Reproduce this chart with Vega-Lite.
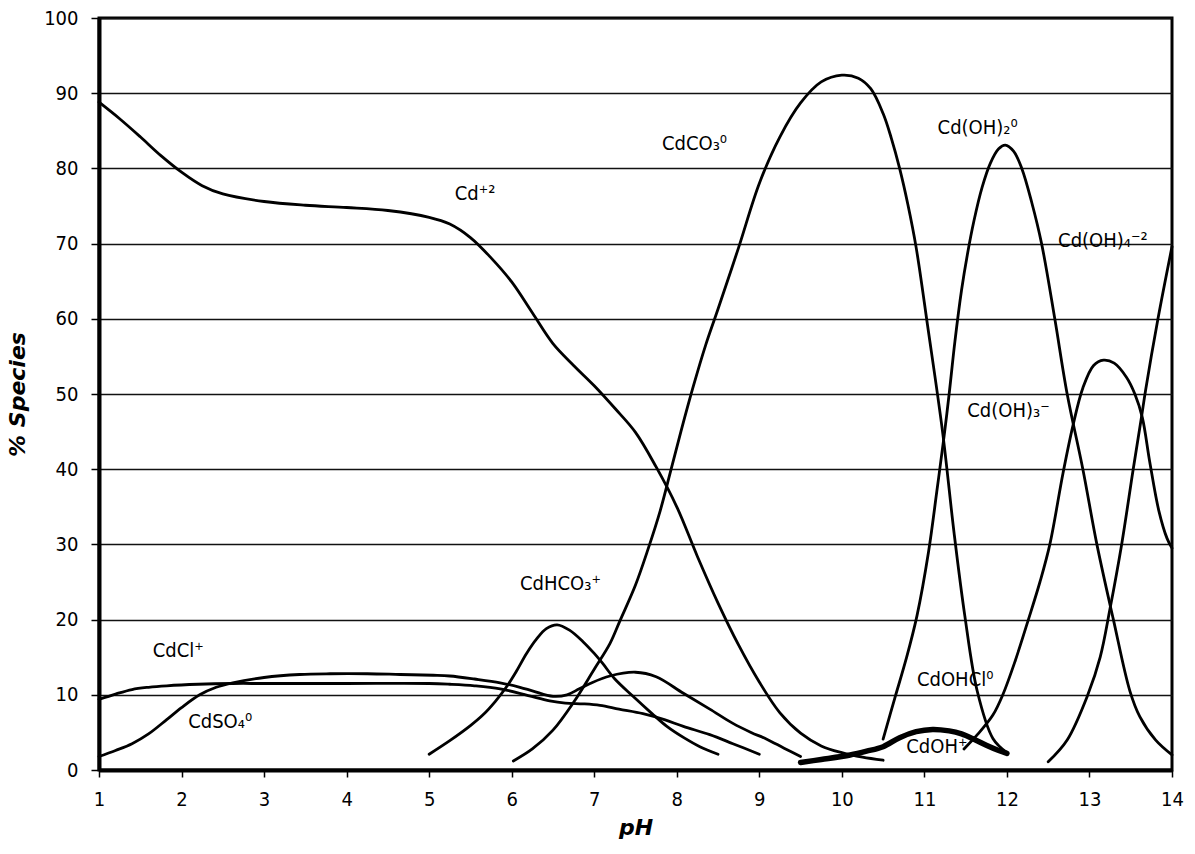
{
  "$schema": "https://vega.github.io/schema/vega-lite/v6.json",
  "width": 1073,
  "height": 752,
  "autosize": {"type": "none"},
  "padding": {"left": 99, "top": 18, "right": 23, "bottom": 84},
  "background": "white",
  "config": {
    "view": {"stroke": "black", "strokeWidth": 3},
    "axis": {
      "domainColor": "black",
      "domainWidth": 4,
      "tickColor": "black",
      "tickWidth": 1.5,
      "labelFont": "DejaVu Sans Condensed, DejaVu Sans",
      "labelFontSize": 20,
      "labelColor": "black",
      "titleFont": "DejaVu Sans",
      "titleFontSize": 22,
      "titleFontStyle": "italic",
      "titleFontWeight": "bold",
      "titleColor": "black"
    }
  },
  "datasets": {
    "curves": [
      {"s": "Cd+2", "x": 1.0, "y": 88.8}, {"s": "Cd+2", "x": 1.25, "y": 86.6}, {"s": "Cd+2", "x": 1.5, "y": 84.2}, {"s": "Cd+2", "x": 1.75, "y": 81.7}, {"s": "Cd+2", "x": 2.0, "y": 79.5}, {"s": "Cd+2", "x": 2.25, "y": 77.7}, {"s": "Cd+2", "x": 2.5, "y": 76.6}, {"s": "Cd+2", "x": 3.0, "y": 75.6}, {"s": "Cd+2", "x": 3.5, "y": 75.1}, {"s": "Cd+2", "x": 4.0, "y": 74.8}, {"s": "Cd+2", "x": 4.5, "y": 74.4}, {"s": "Cd+2", "x": 5.0, "y": 73.5}, {"s": "Cd+2", "x": 5.25, "y": 72.6}, {"s": "Cd+2", "x": 5.5, "y": 70.8}, {"s": "Cd+2", "x": 5.75, "y": 68.1}, {"s": "Cd+2", "x": 6.0, "y": 64.9}, {"s": "Cd+2", "x": 6.25, "y": 60.8}, {"s": "Cd+2", "x": 6.5, "y": 56.7}, {"s": "Cd+2", "x": 6.75, "y": 53.8}, {"s": "Cd+2", "x": 7.0, "y": 51.1}, {"s": "Cd+2", "x": 7.25, "y": 48.1}, {"s": "Cd+2", "x": 7.5, "y": 44.9}, {"s": "Cd+2", "x": 7.75, "y": 40.3}, {"s": "Cd+2", "x": 8.0, "y": 35.0}, {"s": "Cd+2", "x": 8.25, "y": 28.4}, {"s": "Cd+2", "x": 8.5, "y": 22.2}, {"s": "Cd+2", "x": 8.75, "y": 16.6}, {"s": "Cd+2", "x": 9.0, "y": 11.7}, {"s": "Cd+2", "x": 9.25, "y": 7.6}, {"s": "Cd+2", "x": 9.5, "y": 4.9}, {"s": "Cd+2", "x": 9.75, "y": 3.2}, {"s": "Cd+2", "x": 10.0, "y": 2.3}, {"s": "Cd+2", "x": 10.25, "y": 1.7}, {"s": "Cd+2", "x": 10.5, "y": 1.3},

      {"s": "CdCO3", "x": 6.02, "y": 1.2}, {"s": "CdCO3", "x": 6.25, "y": 2.8}, {"s": "CdCO3", "x": 6.5, "y": 5.3}, {"s": "CdCO3", "x": 6.75, "y": 9.0}, {"s": "CdCO3", "x": 7.0, "y": 13.4}, {"s": "CdCO3", "x": 7.19, "y": 16.8}, {"s": "CdCO3", "x": 7.31, "y": 19.8}, {"s": "CdCO3", "x": 7.5, "y": 24.6}, {"s": "CdCO3", "x": 7.65, "y": 29.3}, {"s": "CdCO3", "x": 7.8, "y": 34.5}, {"s": "CdCO3", "x": 7.92, "y": 39.5}, {"s": "CdCO3", "x": 8.05, "y": 45.0}, {"s": "CdCO3", "x": 8.2, "y": 51.0}, {"s": "CdCO3", "x": 8.35, "y": 56.5}, {"s": "CdCO3", "x": 8.5, "y": 61.3}, {"s": "CdCO3", "x": 8.75, "y": 69.5}, {"s": "CdCO3", "x": 9.0, "y": 78.0}, {"s": "CdCO3", "x": 9.25, "y": 84.2}, {"s": "CdCO3", "x": 9.5, "y": 88.7}, {"s": "CdCO3", "x": 9.75, "y": 91.5}, {"s": "CdCO3", "x": 10.0, "y": 92.4}, {"s": "CdCO3", "x": 10.2, "y": 92.0}, {"s": "CdCO3", "x": 10.35, "y": 90.6}, {"s": "CdCO3", "x": 10.5, "y": 87.3}, {"s": "CdCO3", "x": 10.6, "y": 84.0}, {"s": "CdCO3", "x": 10.7, "y": 80.0}, {"s": "CdCO3", "x": 10.8, "y": 75.2}, {"s": "CdCO3", "x": 10.9, "y": 69.5}, {"s": "CdCO3", "x": 11.04, "y": 59.0}, {"s": "CdCO3", "x": 11.22, "y": 45.0}, {"s": "CdCO3", "x": 11.36, "y": 31.5}, {"s": "CdCO3", "x": 11.49, "y": 20.5}, {"s": "CdCO3", "x": 11.64, "y": 10.5}, {"s": "CdCO3", "x": 11.83, "y": 4.2}, {"s": "CdCO3", "x": 12.0, "y": 2.3},

      {"s": "Cd(OH)2", "x": 10.5, "y": 4.1}, {"s": "Cd(OH)2", "x": 10.64, "y": 9.5}, {"s": "Cd(OH)2", "x": 10.78, "y": 14.8}, {"s": "Cd(OH)2", "x": 10.91, "y": 20.5}, {"s": "Cd(OH)2", "x": 11.05, "y": 29.0}, {"s": "Cd(OH)2", "x": 11.15, "y": 37.0}, {"s": "Cd(OH)2", "x": 11.24, "y": 44.5}, {"s": "Cd(OH)2", "x": 11.3, "y": 50.0}, {"s": "Cd(OH)2", "x": 11.37, "y": 57.0}, {"s": "Cd(OH)2", "x": 11.45, "y": 63.8}, {"s": "Cd(OH)2", "x": 11.52, "y": 68.5}, {"s": "Cd(OH)2", "x": 11.6, "y": 73.0}, {"s": "Cd(OH)2", "x": 11.7, "y": 77.5}, {"s": "Cd(OH)2", "x": 11.8, "y": 80.7}, {"s": "Cd(OH)2", "x": 11.9, "y": 82.6}, {"s": "Cd(OH)2", "x": 11.98, "y": 83.1}, {"s": "Cd(OH)2", "x": 12.08, "y": 82.3}, {"s": "Cd(OH)2", "x": 12.18, "y": 80.0}, {"s": "Cd(OH)2", "x": 12.3, "y": 75.5}, {"s": "Cd(OH)2", "x": 12.42, "y": 70.0}, {"s": "Cd(OH)2", "x": 12.58, "y": 60.0}, {"s": "Cd(OH)2", "x": 12.73, "y": 50.0}, {"s": "Cd(OH)2", "x": 12.92, "y": 40.0}, {"s": "Cd(OH)2", "x": 13.09, "y": 30.0}, {"s": "Cd(OH)2", "x": 13.29, "y": 20.0}, {"s": "Cd(OH)2", "x": 13.49, "y": 10.5}, {"s": "Cd(OH)2", "x": 13.61, "y": 7.1}, {"s": "Cd(OH)2", "x": 13.8, "y": 4.0}, {"s": "Cd(OH)2", "x": 14.0, "y": 2.0},

      {"s": "Cd(OH)3", "x": 11.48, "y": 2.8}, {"s": "Cd(OH)3", "x": 11.65, "y": 4.8}, {"s": "Cd(OH)3", "x": 11.83, "y": 7.3}, {"s": "Cd(OH)3", "x": 11.95, "y": 10.0}, {"s": "Cd(OH)3", "x": 12.1, "y": 14.5}, {"s": "Cd(OH)3", "x": 12.26, "y": 20.0}, {"s": "Cd(OH)3", "x": 12.4, "y": 25.0}, {"s": "Cd(OH)3", "x": 12.52, "y": 30.0}, {"s": "Cd(OH)3", "x": 12.68, "y": 39.5}, {"s": "Cd(OH)3", "x": 12.8, "y": 45.8}, {"s": "Cd(OH)3", "x": 12.92, "y": 50.8}, {"s": "Cd(OH)3", "x": 13.05, "y": 53.8}, {"s": "Cd(OH)3", "x": 13.17, "y": 54.5}, {"s": "Cd(OH)3", "x": 13.3, "y": 54.1}, {"s": "Cd(OH)3", "x": 13.45, "y": 52.2}, {"s": "Cd(OH)3", "x": 13.55, "y": 50.0}, {"s": "Cd(OH)3", "x": 13.64, "y": 46.9}, {"s": "Cd(OH)3", "x": 13.73, "y": 41.0}, {"s": "Cd(OH)3", "x": 13.84, "y": 34.5}, {"s": "Cd(OH)3", "x": 13.94, "y": 30.8}, {"s": "Cd(OH)3", "x": 14.0, "y": 29.5},

      {"s": "Cd(OH)4", "x": 12.5, "y": 1.1}, {"s": "Cd(OH)4", "x": 12.73, "y": 4.0}, {"s": "Cd(OH)4", "x": 12.98, "y": 10.0}, {"s": "Cd(OH)4", "x": 13.13, "y": 15.0}, {"s": "Cd(OH)4", "x": 13.25, "y": 21.5}, {"s": "Cd(OH)4", "x": 13.39, "y": 30.0}, {"s": "Cd(OH)4", "x": 13.53, "y": 40.0}, {"s": "Cd(OH)4", "x": 13.63, "y": 46.9}, {"s": "Cd(OH)4", "x": 13.68, "y": 50.5}, {"s": "Cd(OH)4", "x": 13.83, "y": 60.0}, {"s": "Cd(OH)4", "x": 14.0, "y": 69.6},

      {"s": "CdOH+", "x": 9.5, "y": 1.0}, {"s": "CdOH+", "x": 9.75, "y": 1.4}, {"s": "CdOH+", "x": 10.1, "y": 2.0}, {"s": "CdOH+", "x": 10.3, "y": 2.5}, {"s": "CdOH+", "x": 10.5, "y": 3.1}, {"s": "CdOH+", "x": 10.7, "y": 4.3}, {"s": "CdOH+", "x": 10.9, "y": 5.1}, {"s": "CdOH+", "x": 11.1, "y": 5.4}, {"s": "CdOH+", "x": 11.3, "y": 5.2}, {"s": "CdOH+", "x": 11.45, "y": 4.8}, {"s": "CdOH+", "x": 11.6, "y": 4.1}, {"s": "CdOH+", "x": 11.75, "y": 3.3}, {"s": "CdOH+", "x": 11.9, "y": 2.6}, {"s": "CdOH+", "x": 12.0, "y": 2.2},

      {"s": "CdHCO3+", "x": 5.0, "y": 2.1}, {"s": "CdHCO3+", "x": 5.25, "y": 3.9}, {"s": "CdHCO3+", "x": 5.5, "y": 5.9}, {"s": "CdHCO3+", "x": 5.65, "y": 7.3}, {"s": "CdHCO3+", "x": 5.8, "y": 9.1}, {"s": "CdHCO3+", "x": 5.94, "y": 11.1}, {"s": "CdHCO3+", "x": 6.05, "y": 13.0}, {"s": "CdHCO3+", "x": 6.18, "y": 15.5}, {"s": "CdHCO3+", "x": 6.3, "y": 17.4}, {"s": "CdHCO3+", "x": 6.42, "y": 18.8}, {"s": "CdHCO3+", "x": 6.55, "y": 19.3}, {"s": "CdHCO3+", "x": 6.7, "y": 18.6}, {"s": "CdHCO3+", "x": 6.87, "y": 17.0}, {"s": "CdHCO3+", "x": 7.0, "y": 15.5}, {"s": "CdHCO3+", "x": 7.1, "y": 14.2}, {"s": "CdHCO3+", "x": 7.25, "y": 12.1}, {"s": "CdHCO3+", "x": 7.47, "y": 9.8}, {"s": "CdHCO3+", "x": 7.7, "y": 7.5}, {"s": "CdHCO3+", "x": 7.88, "y": 5.8}, {"s": "CdHCO3+", "x": 8.1, "y": 4.2}, {"s": "CdHCO3+", "x": 8.28, "y": 3.1}, {"s": "CdHCO3+", "x": 8.5, "y": 2.1},

      {"s": "CdCl+", "x": 1.0, "y": 9.4}, {"s": "CdCl+", "x": 1.2, "y": 10.1}, {"s": "CdCl+", "x": 1.4, "y": 10.7}, {"s": "CdCl+", "x": 1.6, "y": 11.0}, {"s": "CdCl+", "x": 1.82, "y": 11.2}, {"s": "CdCl+", "x": 2.2, "y": 11.4}, {"s": "CdCl+", "x": 2.62, "y": 11.5}, {"s": "CdCl+", "x": 3.0, "y": 11.5}, {"s": "CdCl+", "x": 4.0, "y": 11.5}, {"s": "CdCl+", "x": 5.0, "y": 11.5}, {"s": "CdCl+", "x": 5.25, "y": 11.4}, {"s": "CdCl+", "x": 5.55, "y": 11.2}, {"s": "CdCl+", "x": 5.86, "y": 10.8}, {"s": "CdCl+", "x": 6.2, "y": 9.9}, {"s": "CdCl+", "x": 6.46, "y": 9.2}, {"s": "CdCl+", "x": 6.65, "y": 8.9}, {"s": "CdCl+", "x": 6.87, "y": 8.8}, {"s": "CdCl+", "x": 7.07, "y": 8.6}, {"s": "CdCl+", "x": 7.3, "y": 8.1}, {"s": "CdCl+", "x": 7.59, "y": 7.5}, {"s": "CdCl+", "x": 7.85, "y": 6.7}, {"s": "CdCl+", "x": 8.08, "y": 5.8}, {"s": "CdCl+", "x": 8.4, "y": 4.7}, {"s": "CdCl+", "x": 8.68, "y": 3.5}, {"s": "CdCl+", "x": 9.0, "y": 2.1},

      {"s": "CdSO4", "x": 1.0, "y": 1.8}, {"s": "CdSO4", "x": 1.2, "y": 2.6}, {"s": "CdSO4", "x": 1.4, "y": 3.5}, {"s": "CdSO4", "x": 1.6, "y": 4.8}, {"s": "CdSO4", "x": 1.82, "y": 6.7}, {"s": "CdSO4", "x": 2.0, "y": 8.3}, {"s": "CdSO4", "x": 2.22, "y": 10.0}, {"s": "CdSO4", "x": 2.42, "y": 11.0}, {"s": "CdSO4", "x": 2.62, "y": 11.6}, {"s": "CdSO4", "x": 3.0, "y": 12.3}, {"s": "CdSO4", "x": 3.43, "y": 12.7}, {"s": "CdSO4", "x": 3.8, "y": 12.8}, {"s": "CdSO4", "x": 4.25, "y": 12.8}, {"s": "CdSO4", "x": 4.65, "y": 12.7}, {"s": "CdSO4", "x": 5.05, "y": 12.6}, {"s": "CdSO4", "x": 5.25, "y": 12.5}, {"s": "CdSO4", "x": 5.55, "y": 12.1}, {"s": "CdSO4", "x": 5.86, "y": 11.6}, {"s": "CdSO4", "x": 6.1, "y": 11.0}, {"s": "CdSO4", "x": 6.26, "y": 10.5}, {"s": "CdSO4", "x": 6.5, "y": 9.8}, {"s": "CdSO4", "x": 6.67, "y": 10.0}, {"s": "CdSO4", "x": 6.82, "y": 10.8}, {"s": "CdSO4", "x": 6.95, "y": 11.5}, {"s": "CdSO4", "x": 7.19, "y": 12.5}, {"s": "CdSO4", "x": 7.5, "y": 13.0}, {"s": "CdSO4", "x": 7.75, "y": 12.4}, {"s": "CdSO4", "x": 8.08, "y": 10.2}, {"s": "CdSO4", "x": 8.4, "y": 8.1}, {"s": "CdSO4", "x": 8.68, "y": 6.2}, {"s": "CdSO4", "x": 8.9, "y": 5.0}, {"s": "CdSO4", "x": 9.09, "y": 4.1}, {"s": "CdSO4", "x": 9.3, "y": 2.9}, {"s": "CdSO4", "x": 9.5, "y": 1.8}
    ],
    "labels": [
      {"t": "Cd⁺²", "x": 5.31, "y": 75.8},
      {"t": "CdCO₃⁰", "x": 7.82, "y": 82.5},
      {"t": "Cd(OH)₂⁰", "x": 11.16, "y": 84.6},
      {"t": "Cd(OH)₄⁻²", "x": 12.62, "y": 69.5},
      {"t": "Cd(OH)₃⁻", "x": 11.52, "y": 46.9},
      {"t": "CdHCO₃⁺", "x": 6.1, "y": 23.9},
      {"t": "CdCl⁺", "x": 1.65, "y": 15.0},
      {"t": "CdSO₄⁰", "x": 2.08, "y": 5.6},
      {"t": "CdOHCl⁰", "x": 10.91, "y": 11.2},
      {"t": "CdOH⁺", "x": 10.78, "y": 2.2}
    ]
  },
  "layer": [
    {
      "data": {"name": "curves"},
      "mark": {"type": "line", "interpolate": "catmull-rom", "color": "black", "strokeCap": "round", "strokeJoin": "round"},
      "encoding": {
        "x": {
          "field": "x", "type": "quantitative",
          "scale": {"domain": [1, 14], "nice": false, "zero": false},
          "axis": {"values": [1, 2, 3, 4, 5, 6, 7, 8, 9, 10, 11, 12, 13, 14], "format": "d", "grid": false, "tickSize": 7, "labelPadding": 12, "title": "pH", "titlePadding": 8, "labelFlush": false}
        },
        "y": {
          "field": "y", "type": "quantitative",
          "scale": {"domain": [0, 100], "nice": false},
          "axis": {"values": [0, 10, 20, 30, 40, 50, 60, 70, 80, 90, 100], "format": "d", "grid": true, "gridColor": "#111", "gridWidth": 1.3, "tickSize": 8, "labelPadding": 13, "title": "% Species", "titlePadding": 14}
        },
        "detail": {"field": "s"},
        "strokeWidth": {"condition": {"test": "datum.s === 'CdOH+'", "value": 5.5}, "value": 2.8}
      }
    },
    {
      "data": {"name": "labels"},
      "mark": {"type": "text", "align": "left", "baseline": "alphabetic", "font": "DejaVu Sans Condensed, DejaVu Sans", "fontSize": 20, "color": "black"},
      "encoding": {
        "x": {"field": "x", "type": "quantitative"},
        "y": {"field": "y", "type": "quantitative"},
        "text": {"field": "t"}
      }
    }
  ]
}
